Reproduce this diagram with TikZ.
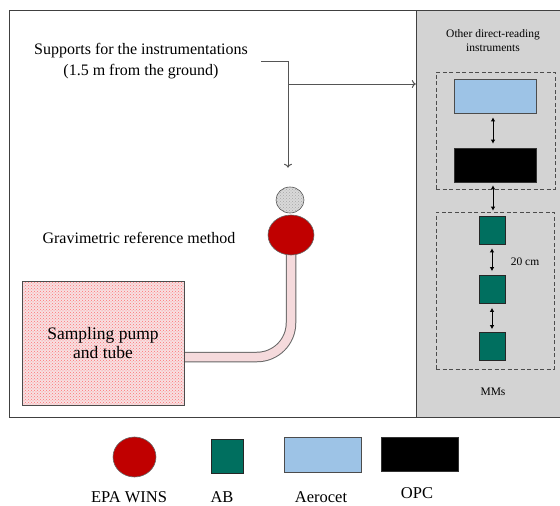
\documentclass[tikz,border=0pt]{standalone}
\usepackage{fontspec}
\setmainfont{Liberation Serif}
\usetikzlibrary{arrows.meta,patterns,shapes.geometric,backgrounds}

\definecolor{winsred}{HTML}{C00000}
\definecolor{abgreen}{HTML}{006F5F}
\definecolor{aeroblue}{HTML}{9DC3E6}
\definecolor{panelgray}{HTML}{D3D3D3}
\definecolor{pumppink}{HTML}{F7E0E2}
\definecolor{tubepink}{HTML}{F5DADC}
\definecolor{wiregray}{HTML}{555555}

\begin{document}
\begin{tikzpicture}[x=1pt,y=-1pt,
  bigtext/.style={font=\fontsize{16}{21}\selectfont, inner sep=0pt, align=center},
  pumptext/.style={font=\fontsize{17.5}{19}\selectfont, align=center},
  smalltext/.style={font=\fontsize{11.5}{14}\selectfont, inner sep=0pt, align=center},
  legendtext/.style={font=\fontsize{16.5}{19}\selectfont, inner sep=0pt},
  frameline/.style={draw=black!75, line width=0.9pt},
  wire/.style={draw=wiregray, line width=1pt, -{To[length=4pt,width=8pt]}},
  gap/.style={draw=black, line width=0.9pt,
    {Latex[length=4pt,width=4.5pt]}-{Latex[length=4pt,width=4.5pt]}, shorten <=4pt, shorten >=4pt},
  dashbox/.style={rectangle, draw=black!70, dash pattern=on 4pt off 2.5pt, line width=0.9pt, inner sep=0pt},
  winsdisc/.style={ellipse, fill=winsred, draw=black!60, line width=0.6pt, inner sep=0pt},
  abbox/.style={rectangle, fill=abgreen, draw=black!85, line width=0.6pt, inner sep=0pt},
  aerobox/.style={rectangle, fill=aeroblue, draw=black!70, line width=0.7pt, inner sep=0pt,
    minimum width=82pt, minimum height=34pt},
  opcbox/.style={rectangle, fill=black, draw=black!80, line width=0.6pt, inner sep=0pt,
    minimum width=82pt, minimum height=34pt},
]
\useasboundingbox (0,0) rectangle (560,506);

% instrument panel on the right
\node[rectangle, fill=panelgray, draw=none, minimum width=144pt, minimum height=407pt,
  inner sep=0pt] (panel) at (488,213.5) {};
\draw[frameline] (565,10) -- (9.5,10) -- (9.5,417) -- (565,417);
\draw[frameline] (416,10) -- (416,417);

% labels
\node[bigtext] (supports) at (141,61.5) {Supports for the instrumentations\\(1.5 m from the ground)};
\node[bigtext] (gravi) at (139,238) {Gravimetric reference method};
\node[smalltext] (others) at (493,41) {Other direct-reading\\instruments};
\node[smalltext] (mms) at (493,392) {MMs};
\node[smalltext] (dist) at (525,262) {20 cm};

% pump and sampling head
\node[rectangle, draw=black!70, line width=0.8pt, minimum width=162pt, minimum height=124pt,
  preaction={fill=pumppink}, pattern=crosshatch dots, pattern color=red!55,
  pumptext] (pump) at (103,343) {Sampling pump\\and tube};
\node[ellipse, draw=black!65, line width=0.6pt, minimum width=28pt, minimum height=26pt,
  inner sep=0pt, preaction={fill=black!15}, pattern=crosshatch dots, pattern color=black!35]
  (head) at (290,200) {};
\node[winsdisc, minimum width=46pt, minimum height=40pt] (wins) at (291,235) {};

% tube from the sampler to the pump
\begin{pgfonlayer}{background}
\draw[line width=10.5pt, black!60, rounded corners=34pt]
  (wins.center) |- ([yshift=-14pt]pump.east);
\draw[line width=8.5pt, tubepink, rounded corners=34pt]
  (wins.center) |- ([yshift=-14pt]pump.east);
\end{pgfonlayer}

% direct-reading instruments
\node[dashbox, minimum width=119pt, minimum height=117pt] (grpA) at (495.5,130.5) {};
\node[dashbox, minimum width=118pt, minimum height=157pt] (grpB) at (495,290.5) {};
\node[aerobox] (aero) at (495,96) {};
\node[opcbox] (opc) at (495,165) {};
\node[abbox, minimum width=26pt, minimum height=28pt] (abA) at (492,230) {};
\node[abbox, minimum width=26pt, minimum height=28pt] (abB) at (492,289.5) {};
\node[abbox, minimum width=26pt, minimum height=28pt] (abC) at (492,346.5) {};

\draw[gap] ([xshift=-2pt]aero.south) -- ([xshift=-2pt]opc.north);
\draw[gap, shorten <=3pt, shorten >=5pt] ([xshift=-2pt]opc.south) -- ([xshift=1pt]abA.north);
\draw[gap] (abA.south) -- (abB.north);
\draw[gap, shorten >=3pt] (abB.south) -- (abC.north);

% support connectors
\coordinate (lead) at (261,61);
\coordinate (corner) at (288,61);
\coordinate (branch) at (288,84);
\draw[wire, shorten >=19pt] (lead) -- (corner) -- (head.north -| corner);
\draw[wire] (branch) -- (panel.west |- branch);

% legend
\node[winsdisc, minimum width=43pt, minimum height=40pt] (lwins) at (134.5,457) {};
\node[abbox, minimum width=32pt, minimum height=34pt] (lab) at (227,456) {};
\node[aerobox, minimum width=77pt, minimum height=35pt] (laero) at (322.5,454.5) {};
\node[opcbox, minimum width=77pt, minimum height=34pt] (lopc) at (419.5,454) {};
\node[legendtext] (twins) at (129,497) {EPA WINS};
\node[legendtext] (tab) at (222,497) {AB};
\node[legendtext] (taero) at (321,497) {Aerocet};
\node[legendtext] (topc) at (417,493) {OPC};
\end{tikzpicture}
\end{document}
